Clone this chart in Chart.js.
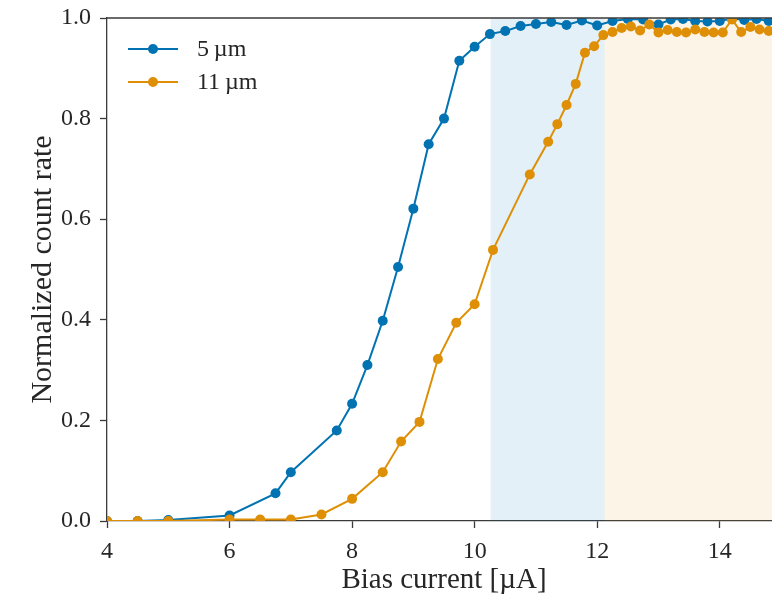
<!DOCTYPE html>
<html>
<head>
<meta charset="utf-8">
<script src="https://cdn.jsdelivr.net/npm/chart.js@4/dist/chart.umd.min.js"></script>
<style>
  html, body { margin: 0; padding: 0; background: #fff; overflow: hidden; }
  #wrap { width: 792px; height: 602px; }
</style>
</head>
<body>
<div id="wrap"><canvas id="c" width="792" height="602"></canvas></div>
<script>
// ---- data ----
const seriesNames = ['5\u2009\u00b5m', '11\u2009\u00b5m'];

const blueX = [4, 4.5, 5, 6, 6.75, 7, 7.75, 8, 8.25, 8.5, 8.75, 9, 9.25, 9.5, 9.75, 10, 10.25, 10.5, 10.75, 11, 11.25, 11.5, 11.75, 12, 12.25, 12.5, 12.75, 13, 13.2, 13.4, 13.6, 13.8, 14, 14.2, 14.4, 14.6, 14.8, 15];
const blueY = [0, 0, 0.002, 0.011, 0.055, 0.097, 0.18, 0.233, 0.31, 0.398, 0.505, 0.621, 0.749, 0.80, 0.915, 0.943, 0.968, 0.974, 0.984, 0.988, 0.992, 0.986, 0.995, 0.985, 0.994, 0.998, 0.997, 0.987, 0.997, 0.998, 0.994, 0.993, 0.994, 0.999, 0.996, 0.998, 0.994, 0.996];

const orangeX = [4, 4.5, 5, 6, 6.5, 7, 7.5, 8, 8.5, 8.8, 9.1, 9.4, 9.7, 10, 10.3, 10.9, 11.2, 11.35, 11.5, 11.65, 11.8, 11.95, 12.1, 12.25, 12.4, 12.55, 12.7, 12.85, 13.0, 13.15, 13.3, 13.45, 13.6, 13.75, 13.9, 14.05, 14.2, 14.35, 14.5, 14.65, 14.8, 14.95];
const orangeY = [0, 0, 0, 0.003, 0.003, 0.003, 0.013, 0.044, 0.097, 0.158, 0.197, 0.322, 0.394, 0.431, 0.539, 0.689, 0.754, 0.789, 0.827, 0.869, 0.931, 0.944, 0.966, 0.972, 0.98, 0.983, 0.975, 0.987, 0.971, 0.976, 0.972, 0.971, 0.977, 0.972, 0.971, 0.971, 0.997, 0.972, 0.982, 0.977, 0.974, 0.976];

const xTicks = [4, 6, 8, 10, 12, 14];
const yTicks = [0, 0.2, 0.4, 0.6, 0.8, 1.0];
const blueBand = [10.26, 12.12];
const orangeBand = [12.12, 15];

const xTitle = 'Bias current [\u00b5A]';
const yTitle = 'Normalized count rate';

// ---- styles ----
const BLUE = '#0173b2';
const ORANGE = '#de8f05';
const AXIS = '#3a3a3a';
const TEXT = '#262626';
const FONT = "'Liberation Serif', 'Times New Roman', serif";

function pts(xs, ys) { return xs.map((x, i) => ({x: x, y: ys[i]})); }

const bandsPlugin = {
  id: 'bands',
  beforeDatasetsDraw(chart) {
    const {ctx, chartArea: a, scales: {x}} = chart;
    ctx.save();
    ctx.beginPath();
    ctx.rect(a.left, a.top, a.right - a.left, a.bottom - a.top);
    ctx.clip();
    const draw = (band, col) => {
      const x0 = x.getPixelForValue(band[0]);
      const x1 = x.getPixelForValue(band[1]);
      ctx.fillStyle = col;
      ctx.fillRect(x0, a.top, x1 - x0, a.bottom - a.top);
    };
    draw(blueBand, 'rgba(1,115,178,0.11)');
    draw(orangeBand, 'rgba(222,143,5,0.10)');
    ctx.restore();
  }
};

const frameLegendPlugin = {
  id: 'frameLegend',
  afterDraw(chart) {
    const {ctx, chartArea: a} = chart;
    ctx.save();
    // top spine
    ctx.strokeStyle = AXIS;
    ctx.lineWidth = 1.3;
    ctx.beginPath();
    ctx.moveTo(a.left, a.top);
    ctx.lineTo(a.right, a.top);
    ctx.stroke();
    // legend
    const cols = [BLUE, ORANGE];
    const rows = [a.top + 31, a.top + 64];
    ctx.font = "24px " + FONT;
    ctx.textBaseline = 'middle';
    ctx.textAlign = 'left';
    for (let i = 0; i < 2; i++) {
      const y = rows[i];
      ctx.strokeStyle = cols[i];
      ctx.lineWidth = 2;
      ctx.beginPath();
      ctx.moveTo(a.left + 21, y);
      ctx.lineTo(a.left + 71, y);
      ctx.stroke();
      ctx.fillStyle = cols[i];
      ctx.beginPath();
      ctx.arc(a.left + 46, y, 5, 0, Math.PI * 2);
      ctx.fill();
      ctx.fillStyle = TEXT;
      ctx.fillText(seriesNames[i], a.left + 90, y + 1);
    }
    ctx.restore();
  }
};

const ds = (label, data, col) => ({
  label: label,
  data: data,
  borderColor: col,
  backgroundColor: col,
  borderWidth: 2,
  pointRadius: 5,
  pointHoverRadius: 5,
  pointBorderWidth: 0,
  pointBackgroundColor: col,
  tension: 0,
  clip: 0
});

new Chart(document.getElementById('c'), {
  type: 'line',
  data: {
    datasets: [
      ds(seriesNames[1], pts(orangeX, orangeY), ORANGE),
      ds(seriesNames[0], pts(blueX, blueY), BLUE)
    ]
  },
  plugins: [bandsPlugin, frameLegendPlugin],
  options: {
    responsive: false,
    animation: false,
    devicePixelRatio: 1,
    layout: { padding: { left: 0, top: 18, right: 11, bottom: 0 } },
    plugins: { legend: { display: false }, tooltip: { enabled: false } },
    scales: {
      x: {
        type: 'linear',
        min: 4, max: 15,
        afterFit(s) { s.height = 81; s.paddingLeft = 0; s.paddingRight = 0; },
        afterBuildTicks(s) { s.ticks = xTicks.map(v => ({value: v})); },
        border: { display: true, color: AXIS, width: 1.3 },
        grid: { display: true, drawOnChartArea: false, drawTicks: true, tickLength: 7, tickWidth: 1.3, tickColor: AXIS },
        ticks: { color: TEXT, font: { family: FONT, size: 24 }, padding: 9, maxRotation: 0, callback: v => String(v) },
        title: { display: true, text: xTitle, color: TEXT, font: { family: FONT, size: 29 }, padding: { top: 0, bottom: 4 } }
      },
      y: {
        type: 'linear',
        min: 0, max: 1,
        afterFit(s) { s.width = 107; s.paddingTop = 0; s.paddingBottom = 0; },
        afterBuildTicks(s) { s.ticks = yTicks.map(v => ({value: v})); },
        border: { display: true, color: AXIS, width: 1.3 },
        grid: { display: true, drawOnChartArea: false, drawTicks: true, tickLength: 7, tickWidth: 1.3, tickColor: AXIS },
        ticks: { color: TEXT, font: { family: FONT, size: 24 }, padding: 9, callback: v => Number(v).toFixed(1) },
        title: { display: true, text: yTitle, color: TEXT, font: { family: FONT, size: 30 }, padding: { top: 25, bottom: 0 } }
      }
    }
  }
});
</script>
</body>
</html>
